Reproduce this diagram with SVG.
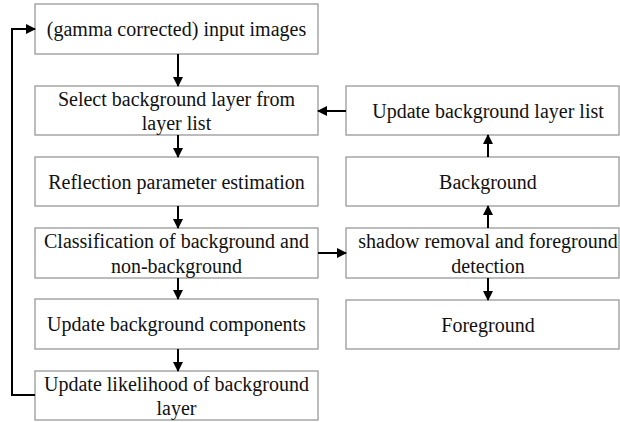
<svg xmlns="http://www.w3.org/2000/svg" width="620" height="422" viewBox="0 0 620 422">
<defs>
<marker id="ah" markerWidth="10" markerHeight="10" refX="9" refY="5" orient="auto" markerUnits="userSpaceOnUse">
<path d="M0,0 L10,5 L0,10 Z" fill="#000"/>
</marker>
<style>
.box{fill:#fff;stroke:#999;stroke-width:1.3}
.t{font-size:20px;fill:#111;text-anchor:middle}
.c{fill:none;stroke:#000;stroke-width:2}
</style>
</defs>
<rect width="620" height="422" fill="#fff"/>
<g font-family="'Liberation Serif', 'Times New Roman', 'DejaVu Serif', serif" class="t">
<g id="n1"><rect class="box" x="35" y="4" width="283" height="50"/><text x="176.5" y="36">(gamma corrected) input images</text></g>
<g id="n2"><rect class="box" x="35" y="86" width="283" height="49"/><text x="176.5" y="106">Select background layer from</text><text x="176.5" y="130">layer list</text></g>
<g id="n3"><rect class="box" x="35" y="157" width="283" height="49"/><text x="176.5" y="189">Reflection parameter estimation</text></g>
<g id="n4"><rect class="box" x="35" y="228" width="283" height="50"/><text x="176.5" y="248">Classification of background and</text><text x="176.5" y="273">non-background</text></g>
<g id="n5"><rect class="box" x="35" y="299" width="283" height="50"/><text x="176.5" y="331">Update background components</text></g>
<g id="n6"><rect class="box" x="35" y="371" width="283" height="49"/><text x="176.5" y="391">Update likelihood of background</text><text x="176.5" y="415">layer</text></g>
<g id="r1"><rect class="box" x="346" y="86" width="273" height="49"/><text x="488" y="118">Update background layer list</text></g>
<g id="r2"><rect class="box" x="346" y="157" width="273" height="49"/><text x="488" y="189">Background</text></g>
<g id="r3"><rect class="box" x="346" y="228" width="273" height="50"/><text x="488" y="248">shadow removal and foreground</text><text x="488" y="273">detection</text></g>
<g id="r4"><rect class="box" x="346" y="300" width="273" height="49"/><text x="488" y="332">Foreground</text></g>
</g>
<g id="connectors">
<line class="c" x1="178" y1="54" x2="178" y2="86" marker-end="url(#ah)"/>
<line class="c" x1="178" y1="135" x2="178" y2="157" marker-end="url(#ah)"/>
<line class="c" x1="178" y1="206" x2="178" y2="228" marker-end="url(#ah)"/>
<line class="c" x1="178" y1="278" x2="178" y2="299" marker-end="url(#ah)"/>
<line class="c" x1="178" y1="349" x2="178" y2="371" marker-end="url(#ah)"/>
<polyline class="c" points="35,395 12,395 12,29 35,29" marker-end="url(#ah)"/>
<line class="c" x1="346" y1="111" x2="318" y2="111" marker-end="url(#ah)"/>
<line class="c" x1="488" y1="157" x2="488" y2="135" marker-end="url(#ah)"/>
<line class="c" x1="488" y1="228" x2="488" y2="206" marker-end="url(#ah)"/>
<line class="c" x1="318" y1="253" x2="346" y2="253" marker-end="url(#ah)"/>
<line class="c" x1="488" y1="278" x2="488" y2="300" marker-end="url(#ah)"/>
</g>
</svg>
